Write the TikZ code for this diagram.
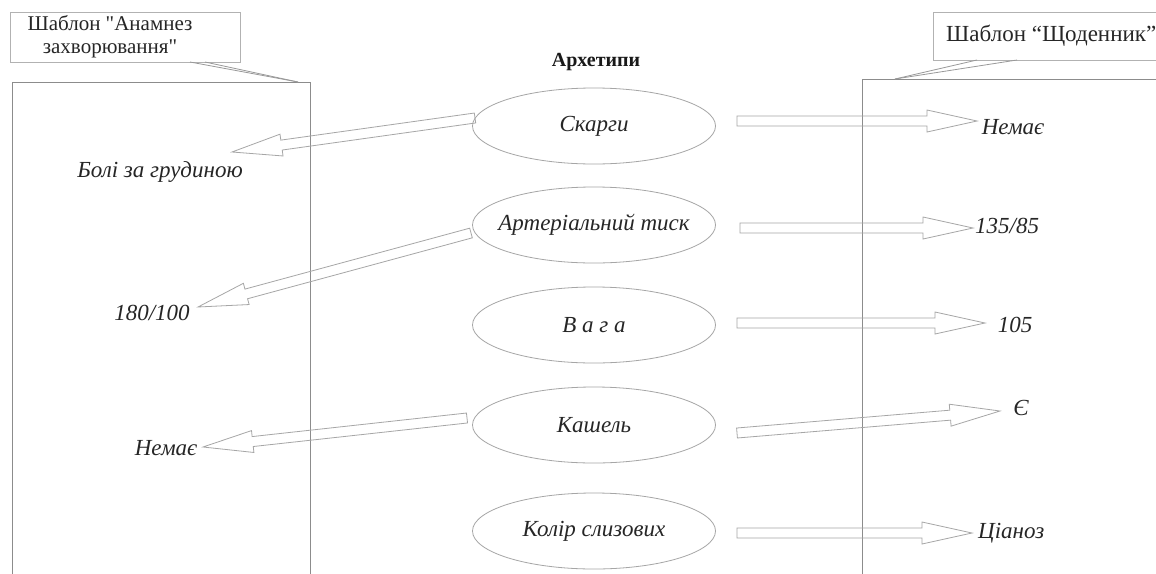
\documentclass[tikz,border=0pt]{standalone}
\usepackage{fontspec}
\setmainfont{Liberation Serif}
\newfontfamily\rawserif{Liberation Serif}
\usetikzlibrary{calc,shapes.geometric}
\tikzset{
  frame/.style={draw=black!45, line width=0.8pt},
  callbox/.style={draw=black!30, line width=0.8pt, fill=white},
  callline/.style={draw=black!40, line width=0.8pt},
  arch/.style={ellipse, draw=black!35, line width=0.8pt, minimum width=243pt, minimum height=76pt, inner xsep=-40pt, inner ysep=0pt, text=black!85, font=\fontsize{23}{26}\selectfont\itshape},
  val/.style={inner sep=0pt, text=black!85, font=\fontsize{23}{26}\selectfont\itshape},
  toptext/.style={inner sep=0pt, text=black!85, font=\rawserif\fontsize{21}{23}\selectfont, align=center},
  arrline/.style={draw=black!35, line width=0.8pt, line join=miter},
}
\newcommand\blockarrow[2]{%
  \path ($(#2)!50pt!(#1)$) coordinate (bac);
  \draw[arrline] ($(#1)!5pt!90:(#2)$) -- ($(bac)!5pt!90:(#2)$) -- ($(bac)!11pt!90:(#2)$) -- (#2)
    -- ($(bac)!11pt!-90:(#2)$) -- ($(bac)!5pt!-90:(#2)$) -- ($(#1)!5pt!-90:(#2)$) -- cycle;}
\begin{document}
\begin{tikzpicture}[x=1pt,y=-1pt]
\clip (0,0) rectangle (1156,573);
\fill[white] (0,0) rectangle (1156,573);

% frames
\draw[frame] (12,600) -- (12,82) -- (310,82) -- (310,600);
\draw[frame] (862,600) -- (862,79) -- (1170,79);

% callouts
\node[callbox, minimum width=230pt, minimum height=50pt, anchor=north west, inner sep=0pt] (lbox) at (10,12) {};
\node[toptext] (ltext) at (110,37) {Шаблон "Анамнез\\захворювання"};
\coordinate (lpt) at (298,82);
\draw[callline] (190,62) -- (lpt);
\draw[callline] (205,62) -- (lpt);

\node[callbox, minimum width=240pt, minimum height=48pt, anchor=north west, inner sep=0pt] (rbox) at (933,12) {};
\node[toptext, font=\fontsize{23}{25}\selectfont, anchor=west] (rtext) at (946,36) {Шаблон “Щоденник”};
\coordinate (rpt) at (895,79);
\draw[callline] (977,60) -- (rpt);
\draw[callline] (1017,60) -- (rpt);

% title
\node[inner sep=0pt, text=black!90, font=\fontsize{20}{22}\selectfont\bfseries] (title) at (596,62) {Архетипи};

% archetypes
\node[arch] (e1) at (594,126) {Скарги};
\node[arch] (e2) at (594,225) {Артеріальний тиск};
\node[arch] (e3) at (594,325) {В а г а};
\node[arch] (e4) at (594,425) {Кашель};
\node[arch] (e5) at (594,531) {Колір слизових};

% right values
\node[val] (r1) at (1013,127) {Немає};
\node[val, anchor=west] (r2) at (975,226) {135/85};
\node[val] (r3) at (1015,325) {105};
\node[val] (r4) at (1021,408) {Є};
\node[val, anchor=west] (r5) at (978,533) {Ціаноз};

% left values
\node[val] (l1) at (160,172) {Болі за грудиною};
\node[val] (l2) at (152,313) {180/100};
\node[val] (l3) at (166,448) {Немає};

% arrow ends
\coordinate (t1r) at (737,121);  \coordinate (h1r) at (977,121);
\coordinate (t2r) at (740,228);  \coordinate (h2r) at (973,228);
\coordinate (t3r) at (737,323);  \coordinate (h3r) at (985,323);
\coordinate (t4r) at (737,433);  \coordinate (h4r) at (1000,411);
\coordinate (t5r) at (737,533);  \coordinate (h5r) at (972,533);
\coordinate (t1l) at (475,118);  \coordinate (h1l) at (232,152);
\coordinate (t2l) at (471,233);  \coordinate (h2l) at (198,307);
\coordinate (t4l) at (467,418);  \coordinate (h4l) at (203,447);

\blockarrow{t1r}{h1r}
\blockarrow{t2r}{h2r}
\blockarrow{t3r}{h3r}
\blockarrow{t4r}{h4r}
\blockarrow{t5r}{h5r}
\blockarrow{t1l}{h1l}
\blockarrow{t2l}{h2l}
\blockarrow{t4l}{h4l}
\end{tikzpicture}
\end{document}
